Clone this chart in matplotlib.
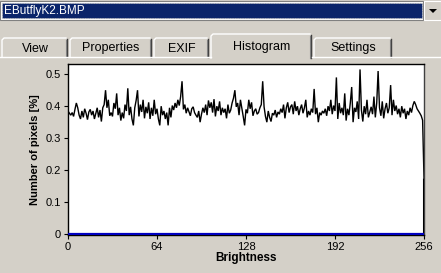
import matplotlib
matplotlib.use("Agg")
import matplotlib.pyplot as plt
from matplotlib.patches import Rectangle, Polygon
import numpy as np

plt.rcParams['font.family'] = ['Liberation Sans', 'DejaVu Sans']

title_text = "EButflyK2.BMP"
tabs = ["View", "Properties", "EXIF", "Histogram", "Settings"]
selected_tab = "Histogram"
x_label = "Brightness"
y_label = "Number of pixels [%]"
x_ticks = [0, 64, 128, 192, 256]
y_ticks = [0, 0.1, 0.2, 0.3, 0.4, 0.5]
y_tick_labels = ["0", "0.1", "0.2", "0.3", "0.4", "0.5"]

hist_values = [
    0.385,0.378,0.372,0.380,0.368,0.390,0.410,0.395,0.372,0.360,0.385,0.365,0.392,0.378,0.358,0.382,
    0.390,0.372,0.385,0.360,0.378,0.395,0.365,0.388,0.352,0.395,0.405,0.450,0.395,0.420,0.370,0.380,
    0.368,0.410,0.392,0.440,0.372,0.395,0.355,0.380,0.362,0.405,0.385,0.456,0.372,0.398,0.360,0.340,
    0.395,0.418,0.450,0.368,0.405,0.382,0.420,0.362,0.398,0.378,0.412,0.360,0.395,0.370,0.420,0.375,
    0.392,0.360,0.340,0.400,0.372,0.385,0.360,0.380,0.340,0.395,0.365,0.402,0.388,0.410,0.395,0.420,
    0.402,0.430,0.478,0.390,0.405,0.378,0.395,0.382,0.370,0.392,0.398,0.380,0.372,0.365,0.385,0.350,
    0.375,0.395,0.380,0.405,0.372,0.418,0.395,0.412,0.380,0.422,0.368,0.400,0.385,0.415,0.372,0.395,
    0.380,0.392,0.362,0.405,0.378,0.388,0.410,0.425,0.450,0.398,0.410,0.372,0.420,0.395,0.368,0.340,
    0.390,0.378,0.420,0.392,0.412,0.370,0.385,0.392,0.375,0.380,0.395,0.405,0.478,0.398,0.368,0.350,
    0.385,0.365,0.352,0.378,0.372,0.388,0.365,0.382,0.375,0.392,0.380,0.405,0.362,0.395,0.412,0.380,
    0.398,0.405,0.375,0.415,0.385,0.400,0.372,0.392,0.405,0.378,0.395,0.420,0.365,0.385,0.372,0.392,
    0.380,0.454,0.375,0.395,0.350,0.380,0.372,0.385,0.378,0.392,0.370,0.400,0.385,0.420,0.375,0.402,
    0.385,0.490,0.360,0.410,0.378,0.395,0.372,0.440,0.355,0.392,0.372,0.410,0.460,0.350,0.395,0.382,
    0.415,0.360,0.515,0.388,0.352,0.400,0.375,0.420,0.365,0.382,0.398,0.375,0.430,0.365,0.410,0.510,
    0.395,0.370,0.415,0.362,0.392,0.410,0.378,0.395,0.466,0.372,0.420,0.385,0.402,0.375,0.392,0.365,
    0.400,0.378,0.392,0.360,0.385,0.372,0.395,0.380,0.402,0.415,0.405,0.392,0.385,0.378,0.370,0.356,
    0.175,
]
brightness = list(range(len(hist_values)))

W, H = 441, 273
BG = "#D4D0C8"
fig = plt.figure(figsize=(W/100, H/100), dpi=100, facecolor=BG)

# GUI background layer in pixel coordinates
gui = fig.add_axes([0, 0, 1, 1], zorder=0)
gui.set_xlim(0, W)
gui.set_ylim(H, 0)
gui.axis("off")

# dropdown
gui.add_patch(Rectangle((0, 1), 423, 19, facecolor="white", edgecolor="#808080", lw=0.8))
gui.add_patch(Rectangle((2, 3), 420, 15, facecolor="#0A246A", edgecolor="#C0C0C0", lw=0.6, linestyle=(0, (1, 1))))
gui.text(4, 11, title_text, color="white", fontsize=8.5, va="center", ha="left")
gui.add_patch(Rectangle((424, 1), 17, 19, facecolor=BG, edgecolor="white", lw=0.8))
gui.add_patch(Polygon([[429, 9], [437, 9], [433, 13]], closed=True, facecolor="black", edgecolor="none"))

# tabs
tab_bounds = [(2, 68), (70, 152), (154, 209), (211, 312), (314, 392)]
for name, (x0, x1) in zip(tabs, tab_bounds):
    sel = name == selected_tab
    top = 34 if sel else 38
    bottom = 58 if sel else 57
    gui.plot([x0, x0, x0 + 2, x1 - 2], [bottom, top + 2, top, top], color="white", lw=1)
    gui.plot([x1 - 1, x1 - 1], [top + 1, bottom], color="#404040", lw=1)
    gui.plot([x1 - 2, x1 - 2], [top + 2, bottom], color="#808080", lw=0.8)
    gui.text((x0 + x1) / 2, (top + bottom) / 2 + 1, name, fontsize=9,
             ha="center", va="center", color="black")
gui.plot([0, 211], [57, 57], color="white", lw=1)
gui.plot([312, W], [57, 57], color="white", lw=1)

# histogram axes
ax_left, ax_right, ax_top, ax_bottom = 68, 424, 64, 235
ax = fig.add_axes([ax_left / W, 1 - ax_bottom / H, (ax_right - ax_left) / W, (ax_bottom - ax_top) / H], zorder=2)
ax.set_facecolor("white")
ax.plot(brightness, hist_values, color="black", lw=1.0, solid_joinstyle="miter")
ax.vlines(brightness[-1], 0, hist_values[-1], color="black", lw=2.2, zorder=3)
ax.axhline(0, color="#0000C0", lw=1.6, zorder=3)
ax.set_xlim(0, 256)
ax.set_ylim(-0.003, 0.532)
ax.set_xticks(x_ticks)
ax.set_xticklabels([str(t) for t in x_ticks])
ax.set_yticks(y_ticks)
ax.set_yticklabels(y_tick_labels)
ax.tick_params(axis="both", direction="out", length=3, width=0.8, labelsize=8, pad=2, colors="black")
for s in ["left", "top"]:
    ax.spines[s].set_color("black")
    ax.spines[s].set_linewidth(1.0)
ax.spines["right"].set_color("#404040")
ax.spines["right"].set_linewidth(1.0)
ax.spines["bottom"].set_color("black")
ax.spines["bottom"].set_linewidth(1.0)
ax.set_xlabel(x_label, fontsize=8.5, fontweight="bold", labelpad=0)
ax.set_ylabel(y_label, fontsize=8, fontweight="bold", labelpad=4)

fig.savefig("out.png", dpi=100, facecolor=BG)
